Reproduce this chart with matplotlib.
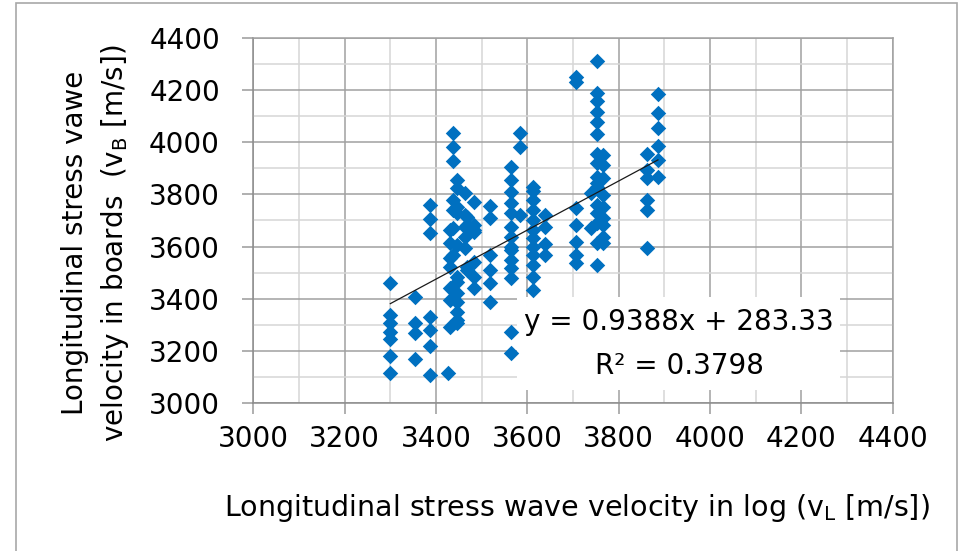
import matplotlib
matplotlib.use("Agg")
import matplotlib.pyplot as plt
from matplotlib.patches import Rectangle
from matplotlib.ticker import MultipleLocator

# columns of log velocity (v_L) and the board velocities (v_B) read at each one
col_x = [3300, 3353, 3386, 3427, 3431, 3438, 3445, 3463, 3467, 3483, 3518,
         3565, 3583, 3612, 3639, 3706, 3740, 3752, 3766, 3863, 3886]
col_y = [
    [3460, 3338, 3306, 3274, 3246, 3181, 3117],
    [3406, 3306, 3268, 3170],
    [3759, 3704, 3651, 3329, 3279, 3220, 3108],
    [3117],
    [3663, 3612, 3555, 3523, 3440, 3395, 3293],
    [4033, 3980, 3928, 3778, 3740, 3670, 3568],
    [3855, 3823, 3752, 3727, 3606, 3485, 3465, 3421, 3389, 3351, 3319, 3306],
    [3804, 3721, 3676, 3638, 3593],
    [3714, 3682, 3523, 3510],
    [3771, 3682, 3663, 3657, 3542, 3485, 3440],
    [3755, 3711, 3568, 3510, 3459, 3389],
    [3905, 3855, 3810, 3765, 3727, 3676, 3638, 3599, 3587, 3549, 3516, 3478, 3274, 3191],
    [4033, 3982, 3721],
    [3829, 3812, 3778, 3740, 3702, 3663, 3631, 3599, 3568, 3529, 3485, 3434],
    [3721, 3676, 3610, 3568],
    [4250, 4231, 3746, 3682, 3618, 3568, 3536],
    [3804, 3670],
    [4310, 4189, 4156, 4116, 4076, 4030, 3955, 3918, 3867, 3842, 3829, 3759, 3727, 3689, 3612, 3529],
    [3950, 3912, 3861, 3797, 3752, 3708, 3682, 3638, 3612],
    [3954, 3893, 3861, 3778, 3740, 3596],
    [4182, 4113, 4052, 3986, 3931, 3867],
]

slope = 0.9388
intercept = 283.33
r2 = 0.3798

xs, ys = [], []
for cx, cy in zip(col_x, col_y):
    for v in cy:
        xs.append(cx)
        ys.append(v)

plt.rcParams['font.family'] = 'DejaVu Sans'
plt.rcParams['mathtext.default'] = 'regular'
fs = 20

fig = plt.figure(figsize=(9.61, 5.51), dpi=100)
ax = fig.add_axes([0.2636, 0.2681, 0.6653, 0.6638])

ax.set_xlim(3000, 4400)
ax.set_ylim(3000, 4400)
ax.xaxis.set_major_locator(MultipleLocator(200))
ax.yaxis.set_major_locator(MultipleLocator(200))
ax.xaxis.set_minor_locator(MultipleLocator(100))
ax.yaxis.set_minor_locator(MultipleLocator(100))

ax.grid(which='major', color='#a0a0a0', lw=1.1)
ax.grid(which='minor', color='#d6d6d6', lw=1.1)
ax.set_axisbelow(True)
for s in ax.spines.values():
    s.set_color('#a0a0a0')
    s.set_linewidth(1.1)
ax.spines['left'].set_color('#8c8c8c')
ax.spines['bottom'].set_color('#8c8c8c')

ax.tick_params(which='major', length=8, width=1.1, color='#9a9a9a', labelsize=fs)
ax.tick_params(which='minor', length=0)
ax.tick_params(axis='y', pad=16)
ax.tick_params(axis='x', pad=8)

ax.scatter(xs, ys, marker='D', s=62, color='#0070c0', linewidths=0, zorder=3)

lx = [min(xs), max(xs)]
ax.plot(lx, [slope * v + intercept for v in lx], color='#1a1a1a', lw=0.9, zorder=4)

# equation label box
ax.add_patch(Rectangle((0.4124, 0.0364), 0.5052, 0.2542, transform=ax.transAxes,
                       facecolor='white', edgecolor='none', zorder=2.5))
ax.text(0.666, 0.2230, 'y = %.4fx + %.2f' % (slope, intercept), transform=ax.transAxes,
        ha='center', va='center', fontsize=fs, zorder=5)
ax.text(0.666, 0.1027, 'R² = %.4f' % r2, transform=ax.transAxes,
        ha='center', va='center', fontsize=fs, zorder=5)

fig.text(0.6005, 0.078, 'Longitudinal stress wave velocity in log (v$_L$ [m/s])',
         ha='center', va='center', fontsize=20.5)
fig.text(0.0999, 0.559, 'Longitudinal stress vawe\nvelocity in boards  (v$_B$ [m/s])',
         ha='center', va='center', rotation=90, multialignment='center',
         fontsize=fs, linespacing=1.4)

# outer frame
fig.patches.append(Rectangle((0.0166, -0.02), 0.979, 1.0146, transform=fig.transFigure,
                             facecolor='none', edgecolor='#a8a8a8', lw=1.2))

fig.savefig('out.png', dpi=100)
